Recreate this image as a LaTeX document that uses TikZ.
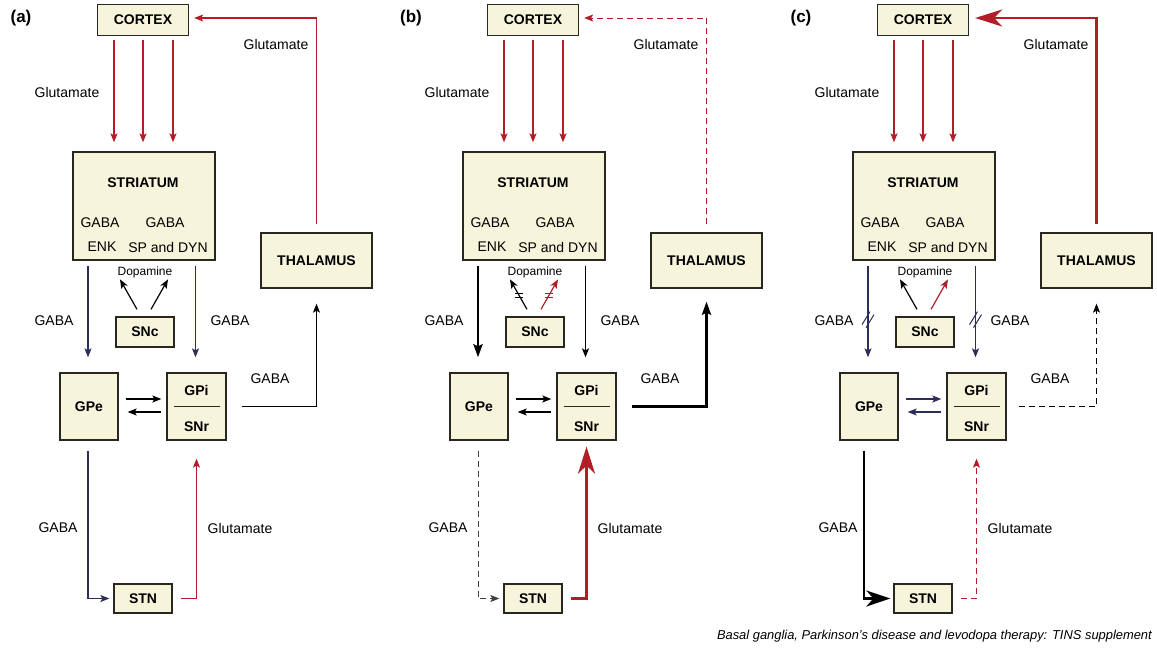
\documentclass[tikz,border=0pt]{standalone}
\usepackage{fontspec}
\setmainfont{Liberation Sans}
\usetikzlibrary{arrows.meta,calc}
\definecolor{cream}{RGB}{247,244,220}
\definecolor{gred}{RGB}{178,30,40}
\definecolor{navy}{RGB}{45,45,90}
\definecolor{edge}{RGB}{40,40,32}
\tikzset{
  bx/.style={draw=edge, line width=1.3pt, fill=cream, inner sep=0pt, font=\fontsize{14}{16}\selectfont\bfseries},
  btxt/.style={inner sep=0pt, font=\fontsize{14}{16}\selectfont\bfseries},
  lbl/.style={inner sep=0pt, font=\fontsize{14}{16}\selectfont},
  dlbl/.style={inner sep=0pt, font=\fontsize{12}{14}\selectfont},
  conn/.style={line width=1.2pt, -{Stealth[length=9pt,width=7pt,inset=2pt]}},
  thk/.style={line width=2.6pt, -{Stealth[length=13pt,width=9pt,inset=2pt]}},
  bigtip/.style={line width=2.5pt, -{Stealth[length=27pt,width=17pt,inset=8pt]}},
  bigtipb/.style={line width=2.5pt, -{Stealth[length=24pt,width=16pt,inset=7pt]}},
  dsh/.style={dash pattern=on 6pt off 4pt},
  hatch/.style={line width=1pt},
}
\newcommand{\panelboxes}[3]{%
\begin{scope}[xshift=#2]
  \node[inner sep=0pt, font=\fontsize{17}{19}\selectfont\bfseries] (#1-lab) at (21,18) {(#3)};
  \node[bx, minimum width=91pt, minimum height=31pt] (#1-ctx) at (143,20) {CORTEX};
  \node[bx, minimum width=142pt, minimum height=108pt] (#1-str) at (144,206) {};
  \node[btxt] (#1-strt) at (143,183) {STRIATUM};
  \node[lbl] (#1-g1) at (100,223) {GABA};
  \node[lbl] (#1-g2) at (165,223) {GABA};
  \node[lbl] (#1-enk) at (102,247) {ENK};
  \node[lbl] (#1-spd) at (168,247) {SP and DYN};
  \node[bx, minimum width=111pt, minimum height=55pt] (#1-thal) at (316.5,260.5) {THALAMUS};
  \node[bx, minimum width=58pt, minimum height=30pt] (#1-snc) at (145,332) {SNc};
  \node[bx, minimum width=58pt, minimum height=67pt] (#1-gpe) at (89,406.5) {GPe};
  \node[bx, minimum width=59pt, minimum height=67pt] (#1-gpi) at (196.5,406.5) {};
  \node[btxt] (#1-gpit) at (196.5,390) {GPi};
  \node[btxt] (#1-snrt) at (196.5,427) {SNr};
  \draw[line width=1.2pt, edge] ($(#1-gpi.west)+(8,0)$) -- ($(#1-gpi.east)+(-7,0)$);
  \node[bx, minimum width=58pt, minimum height=29pt] (#1-stn) at (143,598.5) {STN};
  \node[lbl] (#1-glu1) at (67,92) {Glutamate};
  \node[lbl] (#1-glu2) at (276,44) {Glutamate};
  \node[lbl] (#1-gaba1) at (54,321) {GABA};
  \node[lbl] (#1-gaba2) at (230,321) {GABA};
  \node[lbl] (#1-gaba3) at (270,379) {GABA};
  \node[lbl] (#1-gaba4) at (58,528) {GABA};
  \node[lbl] (#1-glu3) at (240,528) {Glutamate};
  \node[dlbl] (#1-dop) at (145,272) {Dopamine};
\end{scope}}
\begin{document}
\begin{tikzpicture}[x=1pt,y=-1pt]
\useasboundingbox (0,0) rectangle (1157,648);
\panelboxes{a}{0pt}{a}
\panelboxes{b}{390pt}{b}
\panelboxes{c}{780pt}{c}

% ---------- panel (a)
\foreach \dx in {-29,0,30}
  \draw[conn,gred] ($(a-ctx.south)+(\dx,4)$) -- ($(a-ctx.south |- a-str.north)+(\dx,-9)$);
\draw[conn,gred] ($(a-thal.north)+(0,-8)$) |- ($(a-ctx.east)+(5,-2)$);
\draw[conn,navy] ($(a-str.south -| a-gpe.north)+(-1,5)$) -- ($(a-gpe.north)+(-1,-15)$);
\draw[conn,navy] ($(a-str.south -| a-gpi.north)+(-1,5)$) -- ($(a-gpi.north)+(-1,-15)$);
\draw[conn,black] ($(a-snc.north)+(-8,-7)$) -- ($(a-snc.north)+(-25,-37)$);
\draw[conn,black] ($(a-snc.north)+(6,-7)$) -- ($(a-snc.north)+(23,-37)$);
\draw[conn,black] ($(a-gpe.east)+(7,-7.5)$) -- ($(a-gpi.west)+(-5,-7.5)$);
\draw[conn,black] ($(a-gpi.west)+(-5,5.5)$) -- ($(a-gpe.east)+(9,5.5)$);
\draw[conn,black] ($(a-gpi.east)+(15,0)$) -| ($(a-thal.south)+(0,15)$);
\draw[conn,navy] ($(a-gpe.south)+(-1,10)$) |- ($(a-stn.west)+(-4,0)$);
\draw[conn,gred] ($(a-stn.east)+(8,0)$) -| ($(a-gpi.south)+(0,18)$);

% ---------- panel (b)
\foreach \dx in {-29,0,30}
  \draw[conn,gred] ($(b-ctx.south)+(\dx,4)$) -- ($(b-ctx.south |- b-str.north)+(\dx,-9)$);
\draw[conn,gred,line width=1pt,dsh] ($(b-thal.north)+(0,-8)$) |- ($(b-ctx.east)+(5,-2)$);
\draw[thk,black] ($(b-str.south -| b-gpe.north)+(-1,5)$) -- ($(b-gpe.north)+(-1,-15)$);
\draw[conn,black] ($(b-str.south -| b-gpi.north)+(-1,5)$) -- ($(b-gpi.north)+(-1,-15)$);
\coordinate (b-d1s) at ($(b-snc.north)+(-8,-7)$);
\coordinate (b-d1e) at ($(b-snc.north)+(-25,-37)$);
\coordinate (b-d2s) at ($(b-snc.north)+(6,-7)$);
\coordinate (b-d2e) at ($(b-snc.north)+(23,-37)$);
\draw[conn,black] (b-d1s) -- (b-d1e);
\draw[conn,gred] (b-d2s) -- (b-d2e);
\coordinate (b-m1) at ($(b-d1s)!0.45!(b-d1e)$);
\coordinate (b-m2) at ($(b-d2s)!0.45!(b-d2e)$);
\draw[hatch,black] ($(b-m1)+(-4,-2)$) -- ++(8,0) ($(b-m1)+(-4,2)$) -- ++(8,0);
\draw[hatch,gred] ($(b-m2)+(-4,-2)$) -- ++(8,0) ($(b-m2)+(-4,2)$) -- ++(8,0);
\draw[conn,black] ($(b-gpe.east)+(7,-7.5)$) -- ($(b-gpi.west)+(-5,-7.5)$);
\draw[conn,black] ($(b-gpi.west)+(-5,5.5)$) -- ($(b-gpe.east)+(9,5.5)$);
\draw[thk,black] ($(b-gpi.east)+(15,0)$) -| ($(b-thal.south)+(0,13)$);
\draw[conn,black!75,dsh,line width=1pt] ($(b-gpe.south)+(-1,10)$) |- ($(b-stn.west)+(-4,0)$);
\draw[bigtip,gred] ($(b-stn.east)+(8,0)$) -| ($(b-gpi.south)+(0,6)$);

% ---------- panel (c)
\foreach \dx in {-29,0,30}
  \draw[conn,gred] ($(c-ctx.south)+(\dx,4)$) -- ($(c-ctx.south |- c-str.north)+(\dx,-9)$);
\draw[bigtip,gred] ($(c-thal.north)+(0,-8)$) |- ($(c-ctx.east)+(6,-2)$);
\draw[conn,navy] ($(c-str.south -| c-gpe.north)+(-1,5)$) -- ($(c-gpe.north)+(-1,-15)$);
\draw[conn,navy] ($(c-str.south -| c-gpi.north)+(-1,5)$) -- ($(c-gpi.north)+(-1,-15)$);
\coordinate (c-h1) at ($(c-str.south -| c-gpe.north)+(-1,58)$);
\coordinate (c-h2) at ($(c-str.south -| c-gpi.north)+(-1,58)$);
\draw[hatch,navy] ($(c-h1)+(-6,6)$) -- ++(8,-13) ($(c-h1)+(-2,9)$) -- ++(8,-13);
\draw[hatch,navy] ($(c-h2)+(-6,6)$) -- ++(8,-13) ($(c-h2)+(-2,9)$) -- ++(8,-13);
\draw[conn,black] ($(c-snc.north)+(-8,-7)$) -- ($(c-snc.north)+(-25,-37)$);
\draw[conn,gred] ($(c-snc.north)+(6,-7)$) -- ($(c-snc.north)+(23,-37)$);
\draw[conn,navy] ($(c-gpe.east)+(7,-7.5)$) -- ($(c-gpi.west)+(-5,-7.5)$);
\draw[conn,navy] ($(c-gpi.west)+(-5,5.5)$) -- ($(c-gpe.east)+(9,5.5)$);
\draw[conn,black,dsh,line width=1pt] ($(c-gpi.east)+(12,0)$) -| ($(c-thal.south)+(0,15)$);
\draw[bigtipb,black] ($(c-gpe.south)+(-5,10)$) |- ($(c-stn.west)+(-3,0)$);
\draw[conn,gred,dsh,line width=1pt] ($(c-stn.east)+(8,0)$) -| ($(c-gpi.south)+(0,18)$);

\node[anchor=east, inner sep=0pt, font=\fontsize{12.9}{14}\selectfont\itshape] (cap) at (1152,636)
  {Basal ganglia, Parkinson's disease and levodopa therapy: TINS supplement};
\end{tikzpicture}
\end{document}
